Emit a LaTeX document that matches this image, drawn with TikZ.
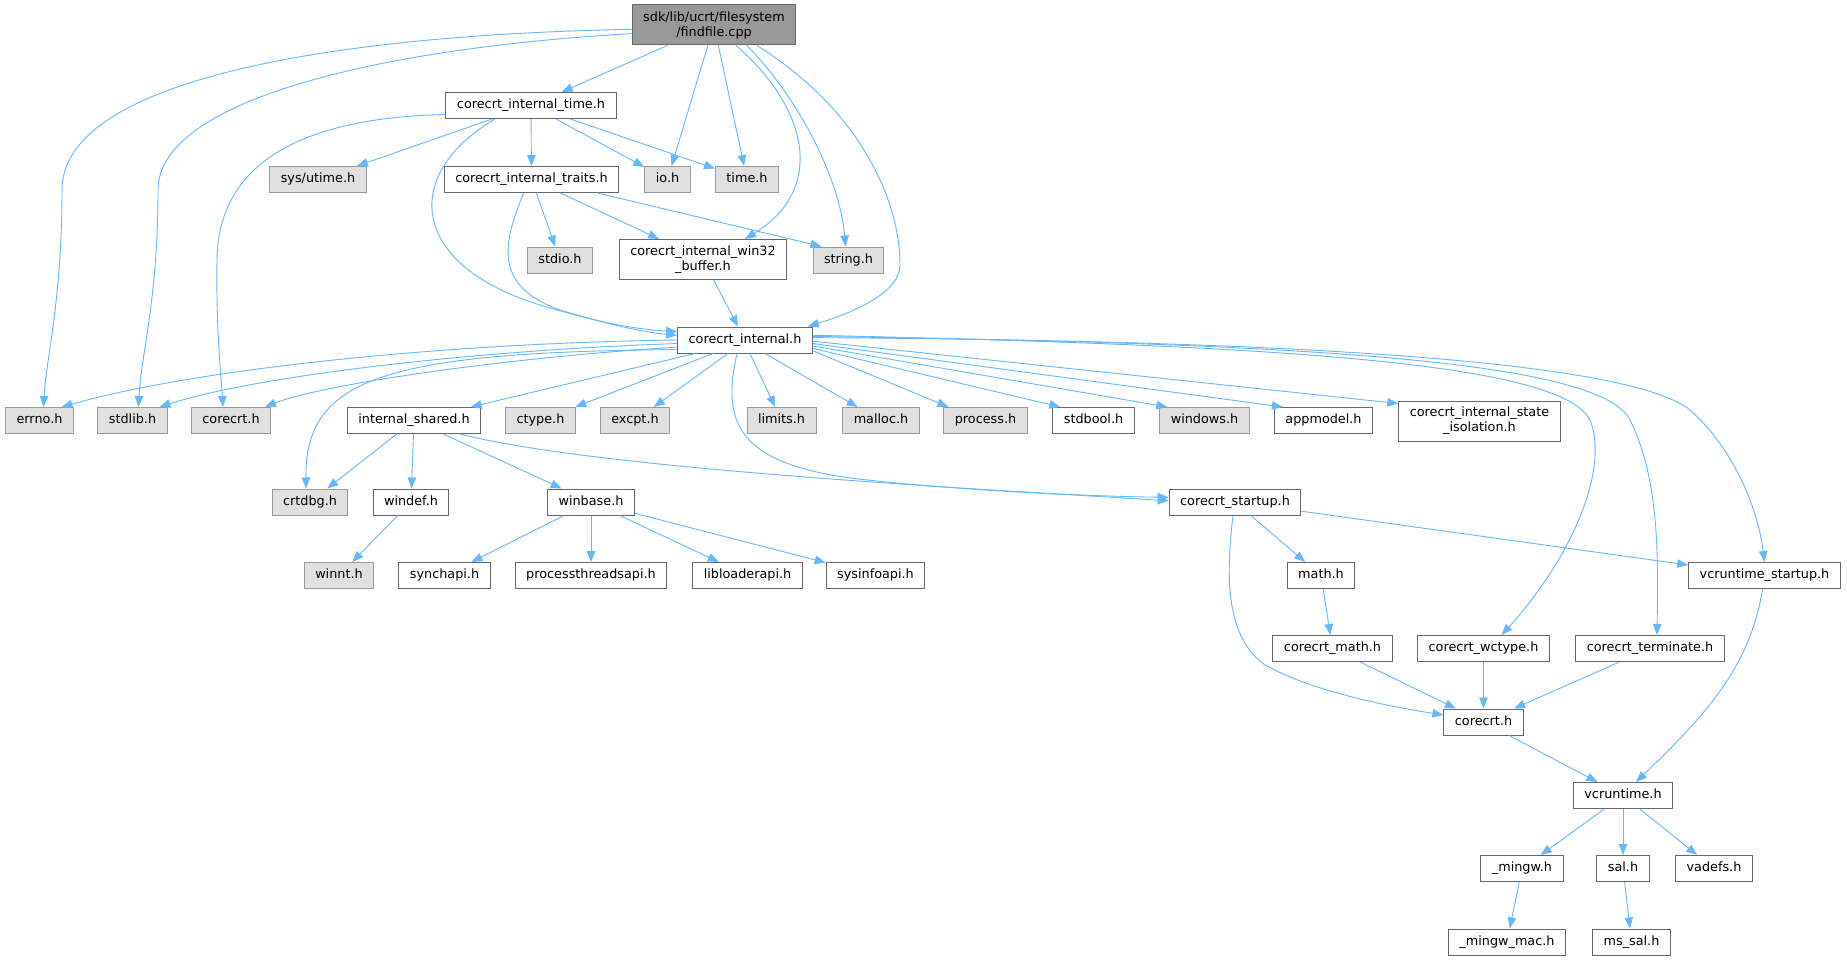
\documentclass[tikz,border=0pt]{standalone}
\usepackage{fontspec}
\setmainfont{DejaVu Sans}
\usetikzlibrary{arrows.meta}
\definecolor{edgeblue}{HTML}{63B8FF}
\definecolor{rootfill}{HTML}{999999}
\definecolor{boxline}{HTML}{666666}
\definecolor{sysfill}{HTML}{E0E0E0}
\definecolor{sysline}{HTML}{999999}
\tikzset{hdrnode/.style={shape=rectangle, draw=boxline, fill=white, line width=1pt, inner xsep=11pt, inner ysep=0pt,
    minimum height=26pt, font=\fontsize{12.8}{15}\selectfont, text height=9.6pt, text depth=2.9pt},
  sysnode/.style={hdrnode, draw=sysline, fill=sysfill},
  twonode/.style={shape=rectangle, draw=boxline, fill=white, line width=1pt, inner xsep=11pt, inner ysep=0pt,
    minimum height=40pt, align=center, font=\fontsize{12.8}{15}\selectfont},
  rootnode/.style={twonode, fill=rootfill},
  link/.style={draw=edgeblue, line width=0.9pt, -{Triangle[length=11pt, width=8.5pt]}},
  dep/.style={every edge/.append style={link}}}

\begin{document}
\begin{tikzpicture}[x=1pt, y=-1pt]
    \useasboundingbox[fill=white] (0,0) rectangle (1847,960);
    \node[rootnode] (ffile) at (714,25) {sdk/lib/ucrt/filesystem\\/findfile.cpp};
    \node[hdrnode] (itime) at (531,105.5) {corecrt\_internal\_time.h};
    \node[sysnode] (utime) at (318,179.5) {sys/utime.h};
    \node[hdrnode] (traits) at (531.5,179.5) {corecrt\_internal\_traits.h};
    \node[sysnode] (ioh) at (667.5,179.5) {io.h};
    \node[sysnode] (timeh) at (747,179.5) {time.h};
    \node[sysnode] (stdio) at (560,260) {stdio.h};
    \node[twonode] (win32) at (703,259.5) {corecrt\_internal\_win32\\\_buffer.h};
    \node[sysnode] (stringh) at (848.5,260) {string.h};
    \node[hdrnode] (cint) at (745,340) {corecrt\_internal.h};

    \node[sysnode] (errno) at (39.5,420.5) {errno.h};
    \node[sysnode] (stdlib) at (132.5,420.5) {stdlib.h};
    \node[sysnode] (crtg) at (231,420.5) {corecrt.h};
    \node[hdrnode] (ishared) at (414,420.5) {internal\_shared.h};
    \node[sysnode] (ctype) at (540.5,420.5) {ctype.h};
    \node[sysnode] (excpt) at (635,420.5) {excpt.h};
    \node[sysnode] (limits) at (781.5,420.5) {limits.h};
    \node[sysnode] (malloc) at (881,420.5) {malloc.h};
    \node[sysnode] (process) at (985.5,420.5) {process.h};
    \node[hdrnode] (stdbool) at (1093.5,420.5) {stdbool.h};
    \node[sysnode] (windows) at (1204.5,420.5) {windows.h};
    \node[hdrnode] (appmodel) at (1323.5,420.5) {appmodel.h};
    \node[twonode] (isolation) at (1479.5,421) {corecrt\_internal\_state\\\_isolation.h};

    \node[sysnode] (crtdbg) at (310,502) {crtdbg.h};
    \node[hdrnode] (windef) at (411,502) {windef.h};
    \node[hdrnode] (winbase) at (591,502) {winbase.h};
    \node[hdrnode] (cstartup) at (1235,502) {corecrt\_startup.h};

    \node[sysnode] (winnt) at (339,575.5) {winnt.h};
    \node[hdrnode] (synchapi) at (444.5,575.5) {synchapi.h};
    \node[hdrnode] (pthreads) at (591,575.5) {processthreadsapi.h};
    \node[hdrnode] (libloader) at (747.5,575.5) {libloaderapi.h};
    \node[hdrnode] (sysinfo) at (875.5,575.5) {sysinfoapi.h};
    \node[hdrnode] (mathh) at (1321,575.5) {math.h};
    \node[hdrnode] (vcstartup) at (1764.5,575.5) {vcruntime\_startup.h};

    \node[hdrnode] (cmath) at (1332.5,648.5) {corecrt\_math.h};
    \node[hdrnode] (wctype) at (1483.5,648.5) {corecrt\_wctype.h};
    \node[hdrnode] (terminate) at (1650,648.5) {corecrt\_terminate.h};
    \node[hdrnode] (crtw) at (1483.5,722) {corecrt.h};
    \node[hdrnode] (vcrt) at (1623,795.5) {vcruntime.h};
    \node[hdrnode] (mingw) at (1522,868.5) {\_mingw.h};
    \node[hdrnode] (sal) at (1623,868.5) {sal.h};
    \node[hdrnode] (vadefs) at (1714,868.5) {vadefs.h};
    \node[hdrnode] (mingwmac) at (1507,942) {\_mingw\_mac.h};
    \node[hdrnode] (mssal) at (1631.5,942) {ms\_sal.h};

    \draw[dep]
    (ffile) edge (itime) (ffile) edge (ioh) (ffile) edge (timeh)
    (itime) edge (utime) (itime) edge (traits) (itime) edge (ioh) (itime) edge (timeh)
    (traits) edge (stdio) (traits) edge (win32)
    ([xshift=66pt]traits.south) edge ([xshift=9pt]stringh.north west)
    (win32) edge (cint);

    \draw[dep]
    ([xshift=-50pt]cint.south) edge (ishared) ([xshift=-32pt]cint.south) edge (ctype)
    ([xshift=-17pt]cint.south) edge (excpt) ([xshift=5pt]cint.south) edge (limits)
    ([xshift=20pt]cint.south) edge (malloc)
    (cint.-9) edge ([xshift=5pt]process.north west)
    (cint.-7) edge ([xshift=8pt]stdbool.north west)
    (cint.-5) edge ([xshift=8pt]windows.north west)
    (cint.-3) edge ([xshift=9pt]appmodel.north west)
    (cint.-1) edge ([yshift=-3pt]isolation.north west);

    \draw[dep]
    (ishared) edge (crtdbg) (ishared) edge (windef) (ishared) edge (winbase)
    (windef) edge (winnt)
    (winbase) edge (synchapi) (winbase) edge (pthreads) (winbase) edge (libloader) (winbase) edge (sysinfo)
    (cstartup) edge (mathh) (cstartup) edge (vcstartup)
    (mathh) edge (cmath)
    (cmath) edge (crtw) (wctype) edge (crtw) (terminate) edge (crtw)
    (crtw) edge (vcrt)
    (vcrt) edge (mingw) (vcrt) edge (sal) (vcrt) edge (vadefs)
    (mingw) edge (mingwmac) (sal) edge (mssal);

    \draw[link] (ffile.183) .. controls (330,35) and (62,80) .. (62,190) .. controls (62,300) and (46,360) .. ([xshift=4pt]errno.north);
    \draw[link] (ffile.186) .. controls (380,48) and (158,100) .. (158,190) .. controls (158,300) and (141,355) .. ([xshift=6pt]stdlib.north);
    \draw[link] ([xshift=22pt]ffile.south) .. controls (810,110) and (825,190) .. ([xshift=42pt]win32.north);
    \draw[link] ([xshift=33pt]ffile.south) .. controls (800,100) and (840,180) .. ([xshift=-3pt]stringh.north);
    \draw[link] ([xshift=43pt]ffile.south) .. controls (860,110) and (900,200) .. (900,265) .. controls (900,295) and (845,315) .. ([xshift=-5pt]cint.north east);

    \draw[link] (itime.186) .. controls (290,118) and (218,170) .. (217,260) .. controls (216,330) and (221,375) .. ([xshift=-8pt]crtg.north);
    \draw[link] ([xshift=-36pt]itime.south) .. controls (400,175) and (410,265) .. (540,305) .. controls (590,320) and (630,329) .. (cint.173);
    \draw[link] ([xshift=-8pt]traits.south) .. controls (505,240) and (490,285) .. (560,310) .. controls (600,322) and (640,332) .. (cint.176);

    \draw[link] (cint.west) .. controls (450,343) and (200,368) .. ([xshift=22pt]errno.north);
    \draw[link] (cint.183) .. controls (480,350) and (260,375) .. ([xshift=27pt]stdlib.north);
    \draw[link] (cint.186) .. controls (500,358) and (320,385) .. ([xshift=34pt]crtg.north);
    \draw[link] (cint.188) .. controls (380,352) and (305,380) .. ([xshift=-4pt]crtdbg.north);
    \draw[link] ([xshift=-8pt]cint.south) .. controls (722,420) and (735,462) .. (850,478) .. controls (950,490) and (1080,496) .. (cstartup.176);
    \draw[link] ([xshift=46pt]ishared.south) .. controls (600,470) and (1000,490) .. (cstartup.179);

    \draw[link] (cint.4) .. controls (1250,345) and (1560,360) .. (1590,420) .. controls (1610,470) and (1570,560) .. ([xshift=18pt]wctype.north);
    \draw[link] (cint.3) .. controls (1300,343) and (1600,360) .. (1630,420) .. controls (1660,480) and (1658,560) .. ([xshift=7pt]terminate.north);
    \draw[link] (cint.2) .. controls (1400,341) and (1640,370) .. (1690,410) .. controls (1735,450) and (1758,510) .. (vcstartup.north);

    \draw[link] ([xshift=-2pt]cstartup.south) .. controls (1224,590) and (1230,640) .. (1265,665) .. controls (1310,690) and (1380,705) .. (crtw.170);
    \draw[link] ([xshift=-2pt]vcstartup.south) .. controls (1750,670) and (1700,720) .. ([xshift=13pt]vcrt.north);
  \end{tikzpicture}
\end{document}
